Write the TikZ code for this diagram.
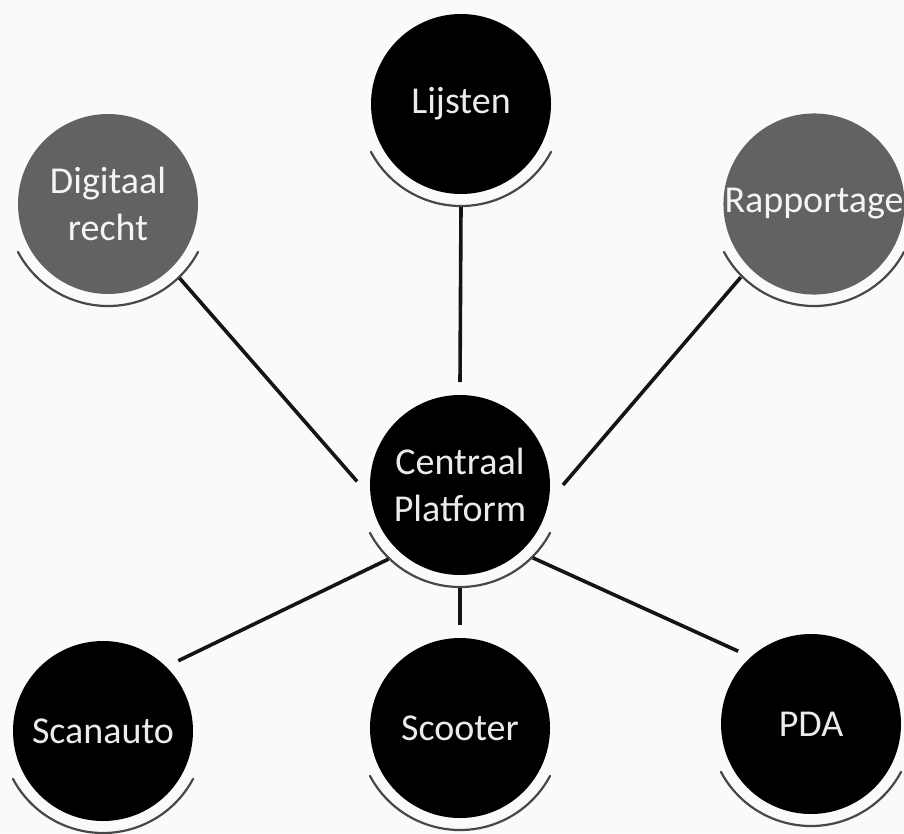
\documentclass[tikz,border=0pt]{standalone}
\usepackage{fontspec}
\setmainfont{Carlito}
\begin{document}
\begin{tikzpicture}[x=1pt,y=1pt,
  hub/.style={circle, minimum size=180pt, inner sep=0pt, outer sep=13pt,
    fill=black, text=white!92!black, align=center,
    font=\fontsize{38}{49}\selectfont},
  shade/.style={hub, fill=graydisk, text=white!96!black},
  link/.style={line width=3.6pt, draw=black!92},
  glint/.style={line width=2.2pt, draw=black!72, line cap=round}]
\definecolor{graydisk}{RGB}{98,98,98}
\definecolor{paper}{RGB}{250,250,248}
\fill[paper] (0,0) rectangle (904,-833);
\useasboundingbox (0,0) rectangle (904,-833);

% disks
\node[shade] (dig) at (108,-204) {Digitaal\\[-2pt]recht};
\node[hub]   (lij) at (461,-104) {Lijsten};
\node[shade] (rap) at (814,-204) {Rapportage};
\node[hub]   (cen) at (460,-485) {Centraal\\[-2pt]Platform};
\node[hub]   (sca) at (103,-731) {Scanauto};
\node[hub]   (sco) at (460,-728) {Scooter};
\node[hub]   (pda) at (811,-724) {PDA};

% thin reflection arcs under each disk
\foreach \n in {dig,lij,rap,cen,sca,sco,pda}{
  \draw[glint] (\n.center) ++(208:102) arc[start angle=208, end angle=332, radius=102];
}

% connectors
\draw[link] (dig.314) -- (cen.178);
\draw[link] (lij.270) -- (cen.90);
\draw[link] (rap.225) -- (cen.0);
\draw[link] (sca.43)  -- (cen.226);
\draw[link] (sco.90)  -- (cen.270);
\draw[link] (pda.135) -- (cen.315);
\end{tikzpicture}
\end{document}
